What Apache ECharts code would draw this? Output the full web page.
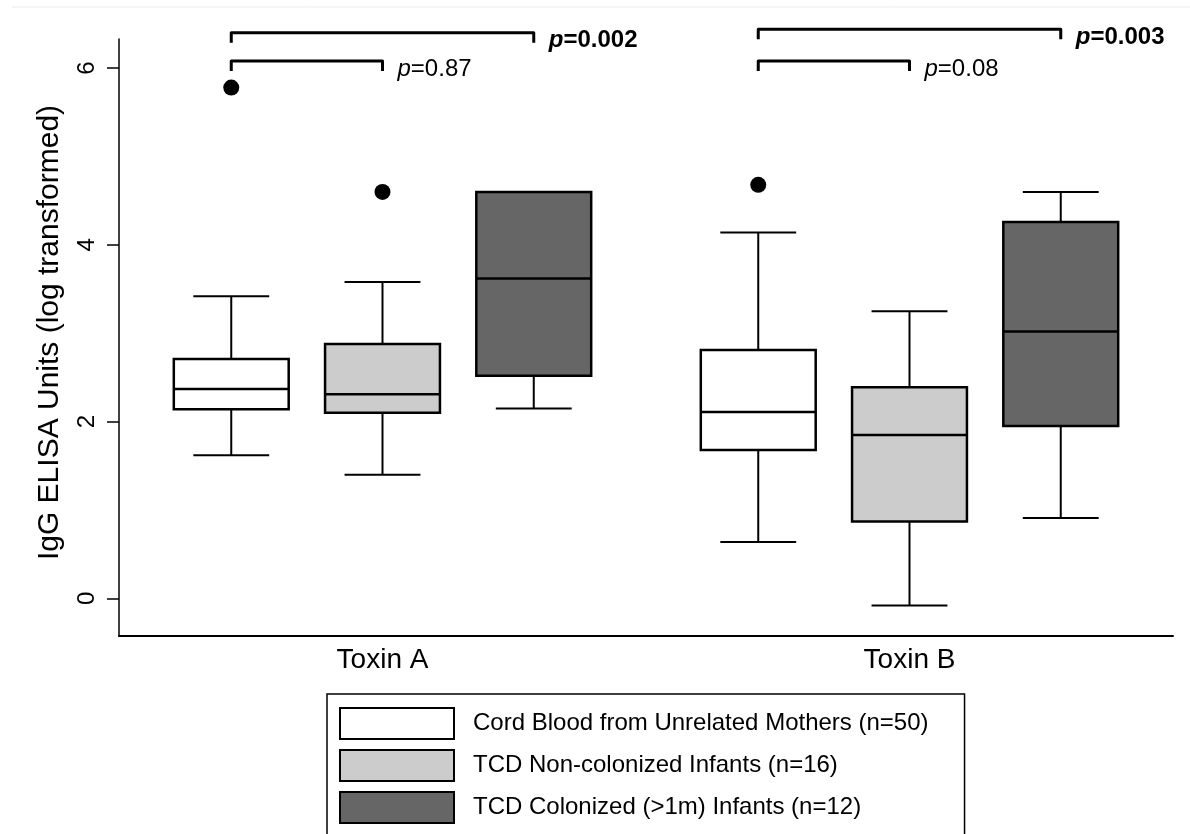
<!DOCTYPE html>
<html>
<head>
<meta charset="utf-8">
<script src="https://cdn.jsdelivr.net/npm/echarts@6/dist/echarts.min.js"></script>
<style>
  html, body { margin: 0; padding: 0; background: #ffffff; }
  #chart { width: 1190px; height: 834px; }
</style>
</head>
<body>
<div id="chart"></div>
<script>
// ---------------- data ----------------
const categories = ['Toxin A', 'Toxin B'];
const groupNames = [
  'Cord Blood from Unrelated Mothers (n=50)',
  'TCD Non-colonized Infants (n=16)',
  'TCD Colonized (>1m) Infants (n=12)'
];
// [low whisker, Q1, median, Q3, high whisker] per category
const cordBlood    = [[1.62, 2.14, 2.37, 2.71, 3.42], [0.64, 1.68, 2.11, 2.81, 4.14]];
const nonColonized = [[1.40, 2.10, 2.31, 2.88, 3.58], [-0.08, 0.87, 1.85, 2.39, 3.25]];
const colonized    = [[2.15, 2.52, 3.62, 4.60, 4.60], [0.91, 1.95, 3.02, 4.26, 4.60]];
// outliers: category index, group index, value
const outlierCats   = [0, 0, 1];
const outlierGroups = [0, 1, 0];
const outlierValues = [5.78, 4.60, 4.68];
// significance brackets
const bracketCats   = [0, 0, 1, 1];
const bracketFrom   = [0, 0, 0, 0];
const bracketTo     = [1, 2, 1, 2];
const bracketLevels = [6.08, 6.40, 6.08, 6.44];
const pValues       = ['0.87', '0.002', '0.08', '0.003'];
const pBold         = [false, true, false, true];
const yTickValues   = [0, 2, 4, 6];

// ---------------- styles ----------------
const FONT = 'Liberation Sans, Arial, Helvetica, sans-serif';
const fills = ['#ffffff', '#cccccc', '#666666'];
const GROUP_OFFSET = 0.287; // fraction of category band between groups
const BOX_FRAC = 0.218;
const CAP_FRAC = 0.144;

const groupData = [cordBlood, nonColonized, colonized];

function groupX(api, cat, g) {
  const c = api.coord([cat, 0]);
  const band = api.size([1, 0])[0];
  return { cx: c[0] + (g - 1) * band * GROUP_OFFSET, band: band };
}

function makeBoxRender(g) {
  return function (params, api) {
    const cat = api.value(0);
    const p = groupX(api, cat, g);
    const half = p.band * BOX_FRAC / 2;
    const cap = p.band * CAP_FRAC / 2;
    const y = function (v) { return api.coord([cat, v])[1]; };
    const lo = y(api.value(1)), q1 = y(api.value(2)), med = y(api.value(3)),
          q3 = y(api.value(4)), hi = y(api.value(5));
    const lineStyle = { stroke: '#000', lineWidth: 2, fill: null };
    return {
      type: 'group',
      children: [
        { type: 'line', shape: { x1: p.cx, y1: q3, x2: p.cx, y2: hi }, style: lineStyle },
        { type: 'line', shape: { x1: p.cx, y1: q1, x2: p.cx, y2: lo }, style: lineStyle },
        { type: 'line', shape: { x1: p.cx - cap, y1: hi, x2: p.cx + cap, y2: hi }, style: lineStyle },
        { type: 'line', shape: { x1: p.cx - cap, y1: lo, x2: p.cx + cap, y2: lo }, style: lineStyle },
        { type: 'rect', shape: { x: p.cx - half, y: q3, width: half * 2, height: q1 - q3 },
          style: { fill: fills[g], stroke: '#000', lineWidth: 2.5 } },
        { type: 'line', shape: { x1: p.cx - half, y1: med, x2: p.cx + half, y2: med },
          style: { stroke: '#000', lineWidth: 2.5 } }
      ]
    };
  };
}

const boxSeries = groupNames.map(function (name, g) {
  return {
    type: 'custom',
    name: name,
    renderItem: makeBoxRender(g),
    itemStyle: { color: fills[g], borderColor: '#000', borderWidth: 2 },
    encode: { x: 0, y: [1, 2, 3, 4, 5] },
    data: groupData[g].map(function (v, i) { return [i].concat(v); }),
    silent: true
  };
});

const outlierSeries = {
  type: 'custom',
  name: 'outliers',
  renderItem: function (params, api) {
    const cat = api.value(0);
    const p = groupX(api, cat, api.value(1));
    const yy = api.coord([cat, api.value(2)])[1];
    return { type: 'circle', shape: { cx: p.cx, cy: yy, r: 8 }, style: { fill: '#000' } };
  },
  encode: { x: 0, y: 2 },
  data: outlierValues.map(function (v, i) { return [outlierCats[i], outlierGroups[i], v]; }),
  silent: true
};

const bracketSeries = {
  type: 'custom',
  name: 'brackets',
  clip: false,
  renderItem: function (params, api) {
    const i = params.dataIndex;
    const cat = api.value(0);
    const x1 = groupX(api, cat, api.value(1)).cx;
    const x2 = groupX(api, cat, api.value(2)).cx;
    const yy = api.coord([cat, api.value(3)])[1];
    const drop = 10;
    const bold = pBold[i];
    return {
      type: 'group',
      children: [
        { type: 'polyline',
          shape: { points: [[x1, yy + drop], [x1, yy], [x2, yy], [x2, yy + drop]] },
          style: { stroke: '#000', lineWidth: 3, fill: null, lineJoin: 'round' } },
        { type: 'text',
          style: {
            x: x2 + 15, y: yy + 8,
            text: '{i|p}{n|=' + pValues[i] + '}',
            verticalAlign: 'middle', align: 'left',
            rich: {
              i: { fontFamily: FONT, fontSize: 24, fontStyle: 'italic', fontWeight: bold ? 'bold' : 'normal', fill: '#000' },
              n: { fontFamily: FONT, fontSize: 24, fontWeight: bold ? 'bold' : 'normal', fill: '#000' }
            }
          } }
      ]
    };
  },
  encode: { x: 0, y: 3 },
  data: bracketLevels.map(function (v, i) { return [bracketCats[i], bracketFrom[i], bracketTo[i], v]; }),
  silent: true
};

const chart = echarts.init(document.getElementById('chart'), null, { renderer: 'canvas' });
chart.setOption({
  animation: false,
  backgroundColor: '#ffffff',
  textStyle: { fontFamily: FONT },
  grid: { left: 119, right: 17, top: 39, bottom: 198 },
  xAxis: {
    type: 'category',
    data: categories,
    axisLine: { onZero: false, lineStyle: { color: '#000', width: 2 } },
    axisTick: { show: false },
    axisLabel: { color: '#000', fontSize: 28, fontFamily: FONT, margin: 10 },
    splitLine: { show: false }
  },
  yAxis: {
    type: 'value',
    min: -0.425,
    max: 6.33,
    name: 'IgG ELISA Units (log transformed)',
    nameLocation: 'middle',
    nameGap: 54,
    nameTextStyle: { color: '#000', fontSize: 30, fontFamily: FONT, padding: [0, 0, 0, 10] },
    axisLine: { show: true, onZero: false, lineStyle: { color: '#000', width: 1.5 } },
    axisTick: { show: true, length: 12, lineStyle: { color: '#000', width: 1.5 }, customValues: yTickValues },
    axisLabel: { color: '#000', fontSize: 24, fontFamily: FONT, rotate: 90, margin: 20, customValues: yTickValues },
    splitLine: { show: false }
  },
  legend: {
    orient: 'vertical',
    left: 327,
    top: 694,
    height: 200,
    padding: [13, 36, 13, 12],
    itemWidth: 114,
    itemHeight: 31,
    itemGap: 9,
    borderColor: '#000',
    borderWidth: 1.5,
    selectedMode: false,
    icon: 'rect',
    textStyle: { color: '#000', fontSize: 24, fontFamily: FONT, padding: [0, 0, 0, 14] },
    data: groupNames.map(function (n, g) {
      return { name: n, icon: 'rect', itemStyle: { color: fills[g], borderColor: '#000', borderWidth: 2 } };
    })
  },
  graphic: [
    { type: 'line', silent: true, shape: { x1: 12, y1: 7, x2: 1190, y2: 7 },
      style: { stroke: '#e6edf0', lineWidth: 1 } }
  ],
  series: boxSeries.concat([outlierSeries, bracketSeries])
});
</script>
</body>
</html>
